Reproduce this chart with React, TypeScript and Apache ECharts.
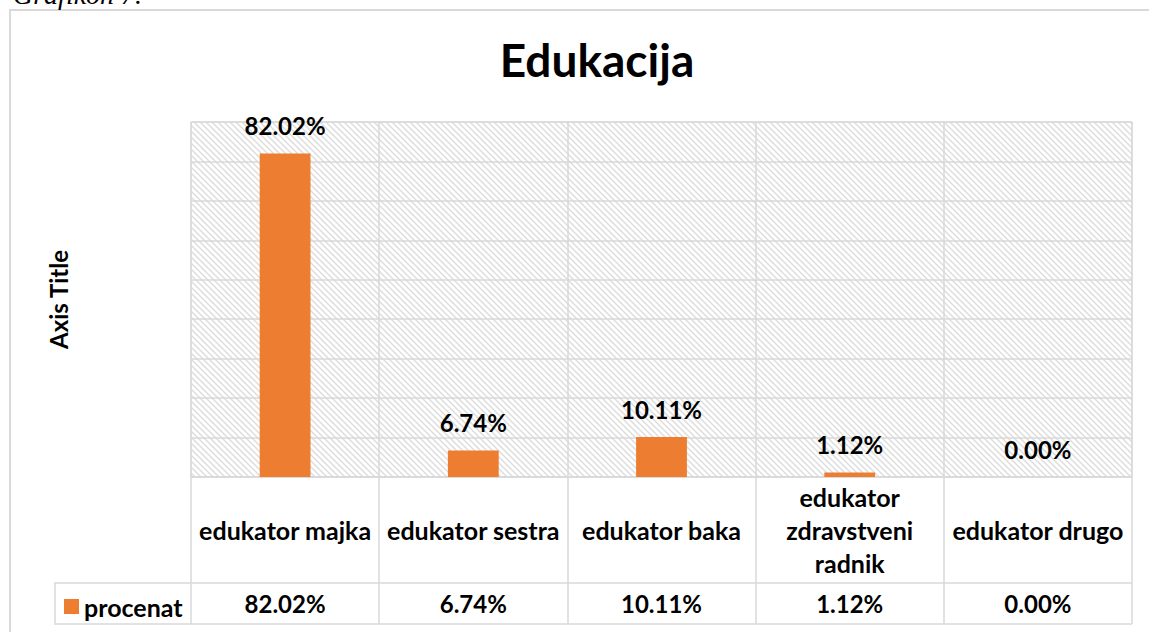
import React, { useEffect, useRef } from "react";
import * as echarts from "echarts";

const chartTitle = "Edukacija";
const captionText = "Grafikon 7.";
const yAxisTitle = "Axis Title";
const seriesName = "procenat";
const categories = [
  "edukator majka",
  "edukator sestra",
  "edukator baka",
  "edukator zdravstveni radnik",
  "edukator drugo",
];
const values = [82.02, 6.74, 10.11, 1.12, 0.0];
const yMin = 0;
const yMax = 90;
const yInterval = 10;

const FONT = "Lato";
const GRID_COLOR = "#d9d9d9";
const BAR_COLOR = "#ED7D31";

const fmt = (v: number) => v.toFixed(2) + "%";

function makeHatch(): HTMLCanvasElement {
  const n = 6;
  const c = document.createElement("canvas");
  c.width = n;
  c.height = n;
  const ctx = c.getContext("2d")!;
  ctx.fillStyle = "#ffffff";
  ctx.fillRect(0, 0, n, n);
  ctx.strokeStyle = "#dcdcdc";
  ctx.lineWidth = 1.4;
  ctx.beginPath();
  ctx.moveTo(-1, -1);
  ctx.lineTo(n + 1, n + 1);
  ctx.moveTo(n - 2, -2);
  ctx.lineTo(n + 2, 2);
  ctx.moveTo(-2, n - 2);
  ctx.lineTo(2, n + 2);
  ctx.stroke();
  return c;
}

export default function App() {
  const ref = useRef<HTMLDivElement>(null);
  useEffect(() => {
    if (!ref.current) return;
    const chart = echarts.init(ref.current, null, { renderer: "svg" });
    const hatch = makeHatch();
    const bold = { fontFamily: FONT, fontWeight: "bold" as const, color: "#000" };
    chart.setOption({
      animation: false,
      backgroundColor: "#fff",
      title: {
        text: chartTitle,
        left: 592,
        top: 31,
        textAlign: "center",
        textStyle: { ...bold, fontSize: 46 },
      },
      legend: {
        left: 64,
        top: 594,
        padding: 0,
        icon: "rect",
        itemWidth: 15,
        itemHeight: 15,
        data: [seriesName],
        textStyle: { ...bold, fontSize: 25 },
      },
      grid: {
        left: 191,
        right: 17,
        top: 122,
        bottom: 155,
        show: true,
        backgroundColor: { image: hatch, repeat: "repeat" },
        borderColor: GRID_COLOR,
        borderWidth: 1,
      },
      xAxis: [
        {
          type: "category",
          data: categories,
          position: "bottom",
          axisLine: { show: true, lineStyle: { color: GRID_COLOR, width: 1.5 } },
          axisTick: {
            show: true,
            interval: 0,
            length: 147,
            lineStyle: { color: GRID_COLOR, width: 1.5 },
          },
          splitLine: {
            show: true,
            interval: 0,
            lineStyle: { color: GRID_COLOR, width: 1.5 },
          },
          axisLabel: {
            interval: 0,
            margin: 53,
            verticalAlign: "middle",
            lineHeight: 33,
            ...bold,
            fontSize: 25,
            formatter: (s: string) =>
              s.length > 18 ? s.split(" ").join("\n") : s,
          },
        },
        {
          type: "category",
          data: values.map(fmt),
          position: "bottom",
          axisLine: { show: false },
          axisTick: { show: false },
          splitLine: { show: false },
          axisLabel: {
            interval: 0,
            margin: 126,
            verticalAlign: "middle",
            ...bold,
            fontSize: 24,
          },
        },
      ],
      yAxis: {
        type: "value",
        min: yMin,
        max: yMax,
        interval: yInterval,
        name: yAxisTitle,
        nameLocation: "middle",
        nameRotate: 90,
        nameGap: 121,
        nameTextStyle: { ...bold, fontSize: 24 },
        axisLabel: { show: false },
        axisLine: { show: false },
        axisTick: { show: false },
        splitLine: { show: true, lineStyle: { color: GRID_COLOR, width: 1.5 } },
      },
      series: [
        {
          name: seriesName,
          type: "bar",
          xAxisIndex: 0,
          data: values,
          barWidth: "27%",
          itemStyle: { color: BAR_COLOR },
          label: {
            show: true,
            position: "top",
            distance: 16,
            formatter: (p: any) => fmt(p.value),
            ...bold,
            fontSize: 24,
          },
        },
      ],
      graphic: [
        {
          type: "rect",
          shape: { x: 10, y: 10, width: 1150, height: 640 },
          style: { fill: "none", stroke: GRID_COLOR, lineWidth: 2 },
          silent: true,
          z: -1,
        },
        {
          type: "text",
          x: 13,
          y: 8,
          style: {
            text: captionText,
            fontFamily: "Liberation Serif",
            fontStyle: "italic",
            fontSize: 28,
            fill: "#000",
            verticalAlign: "bottom",
          },
        },
        {
          type: "polyline",
          shape: {
            points: [
              [1132, 583],
              [55, 583],
              [55, 624],
              [1132, 624],
            ],
          },
          style: { fill: "none", stroke: GRID_COLOR, lineWidth: 1.5 },
          silent: true,
        },
      ],
    });
    return () => chart.dispose();
  }, []);
  return (
    <div
      ref={ref}
      style={{ position: "fixed", left: 0, top: 0, width: 1149, height: 632 }}
    />
  );
}
